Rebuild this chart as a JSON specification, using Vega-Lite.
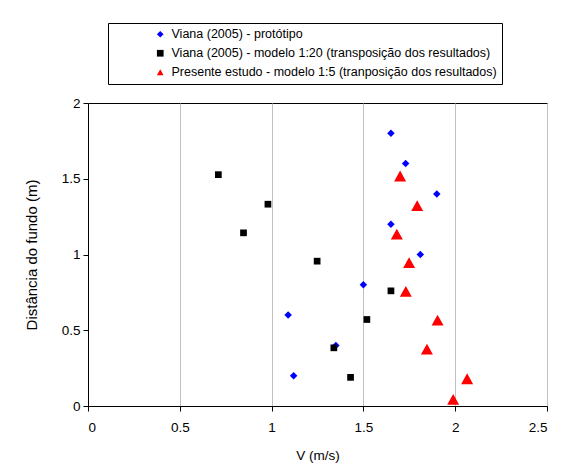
{
  "$schema": "https://vega.github.io/schema/vega-lite/v6.json",
  "width": 459,
  "height": 303,
  "autosize": {"type": "none"},
  "padding": {"left": 88, "top": 103, "right": 40, "bottom": 70},
  "background": "white",
  "config": {
    "font": "Liberation Sans",
    "view": {"stroke": "black", "strokeWidth": 1},
    "axis": {"labelFont": "Liberation Sans", "titleFont": "Liberation Sans", "labelFontSize": 13.5, "titleFontSize": 13.5, "titleFontWeight": "normal", "labelColor": "black", "titleColor": "black", "domainColor": "black", "tickColor": "black"}
  },
  "data": {"values": [
    {"s": "Viana (2005) - protótipo", "v": 1.65, "d": 1.8},
    {"s": "Viana (2005) - protótipo", "v": 1.73, "d": 1.6},
    {"s": "Viana (2005) - protótipo", "v": 1.9, "d": 1.4},
    {"s": "Viana (2005) - protótipo", "v": 1.65, "d": 1.2},
    {"s": "Viana (2005) - protótipo", "v": 1.81, "d": 1.0},
    {"s": "Viana (2005) - protótipo", "v": 1.5, "d": 0.8},
    {"s": "Viana (2005) - protótipo", "v": 1.09, "d": 0.6},
    {"s": "Viana (2005) - protótipo", "v": 1.35, "d": 0.4},
    {"s": "Viana (2005) - protótipo", "v": 1.12, "d": 0.2},
    {"s": "Viana (2005) - modelo 1:20 (transposição dos resultados)", "v": 0.71, "d": 1.527},
    {"s": "Viana (2005) - modelo 1:20 (transposição dos resultados)", "v": 0.98, "d": 1.332},
    {"s": "Viana (2005) - modelo 1:20 (transposição dos resultados)", "v": 0.847, "d": 1.143},
    {"s": "Viana (2005) - modelo 1:20 (transposição dos resultados)", "v": 1.248, "d": 0.956},
    {"s": "Viana (2005) - modelo 1:20 (transposição dos resultados)", "v": 1.65, "d": 0.76},
    {"s": "Viana (2005) - modelo 1:20 (transposição dos resultados)", "v": 1.519, "d": 0.571},
    {"s": "Viana (2005) - modelo 1:20 (transposição dos resultados)", "v": 1.339, "d": 0.384},
    {"s": "Viana (2005) - modelo 1:20 (transposição dos resultados)", "v": 1.43, "d": 0.189},
    {"s": "Presente estudo - modelo 1:5 (tranposição dos resultados)", "v": 1.7, "d": 1.518},
    {"s": "Presente estudo - modelo 1:5 (tranposição dos resultados)", "v": 1.793, "d": 1.323},
    {"s": "Presente estudo - modelo 1:5 (tranposição dos resultados)", "v": 1.682, "d": 1.134},
    {"s": "Presente estudo - modelo 1:5 (tranposição dos resultados)", "v": 1.749, "d": 0.947},
    {"s": "Presente estudo - modelo 1:5 (tranposição dos resultados)", "v": 1.731, "d": 0.756},
    {"s": "Presente estudo - modelo 1:5 (tranposição dos resultados)", "v": 1.904, "d": 0.567},
    {"s": "Presente estudo - modelo 1:5 (tranposição dos resultados)", "v": 1.846, "d": 0.376},
    {"s": "Presente estudo - modelo 1:5 (tranposição dos resultados)", "v": 2.065, "d": 0.18},
    {"s": "Presente estudo - modelo 1:5 (tranposição dos resultados)", "v": 1.989, "d": 0.044}
  ]},
  "encoding": {
    "x": {"field": "v", "type": "quantitative", "title": "V (m/s)",
      "scale": {"domain": [0, 2.5], "nice": false},
      "axis": {"values": [0, 0.5, 1, 1.5, 2, 2.5], "format": "~g", "grid": true, "gridColor": "#c0c0c0", "tickSize": 5, "labelPadding": 9, "titlePadding": 15}},
    "y": {"field": "d", "type": "quantitative", "title": "Distância do fundo (m)",
      "scale": {"domain": [0, 2], "nice": false},
      "axis": {"values": [0, 0.5, 1, 1.5, 2], "format": "~g", "grid": false, "tickSize": 5, "labelPadding": 3, "titlePadding": 22, "titleFontSize": 15}},
    "color": {"field": "s", "type": "nominal",
      "scale": {"domain": ["Viana (2005) - protótipo", "Viana (2005) - modelo 1:20 (transposição dos resultados)", "Presente estudo - modelo 1:5 (tranposição dos resultados)"], "range": ["#0000ff", "#000000", "#ff0000"]},
      "legend": {"title": null, "orient": "none", "legendX": 20, "legendY": -80, "strokeColor": "black", "padding": 5, "symbolOffset": 41, "labelFontSize": 12.5, "labelFont": "Liberation Sans", "labelColor": "black", "labelLimit": 500, "rowPadding": 6, "symbolSize": 45, "labelOffset": 5, "fillColor": "white", "labelExpr": "datum.label + '      '"}},
    "shape": {"field": "s", "type": "nominal",
      "scale": {"domain": ["Viana (2005) - protótipo", "Viana (2005) - modelo 1:20 (transposição dos resultados)", "Presente estudo - modelo 1:5 (tranposição dos resultados)"], "range": ["M0,-1L1,0L0,1L-1,0Z", "square", "M0,-0.9L1,0.9L-1,0.9Z"]}}
  },
  "layer": [
    {"transform": [{"filter": "datum.s === 'Viana (2005) - protótipo'"}],
     "mark": {"type": "point", "filled": true, "opacity": 1, "size": 56}},
    {"transform": [{"filter": "datum.s === 'Viana (2005) - modelo 1:20 (transposição dos resultados)'"}],
     "mark": {"type": "point", "filled": true, "opacity": 1, "size": 45}},
    {"transform": [{"filter": "datum.s === 'Presente estudo - modelo 1:5 (tranposição dos resultados)'"}],
     "mark": {"type": "point", "filled": true, "opacity": 1, "size": 144}}
  ]
}
